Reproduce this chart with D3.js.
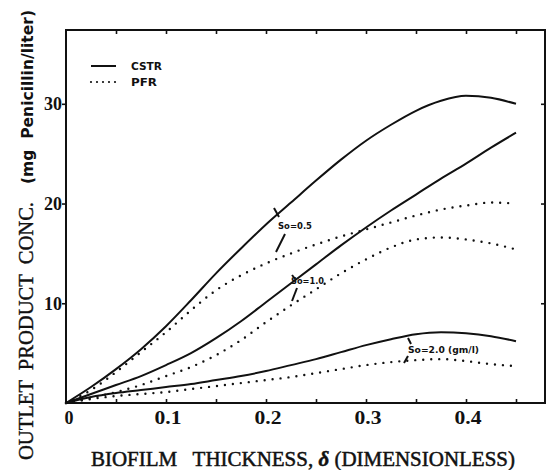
<!DOCTYPE html>
<html>
<head>
<meta charset="utf-8">
<script src="https://cdn.jsdelivr.net/npm/d3@7"></script>
<style>
  html, body { margin: 0; padding: 0; background: #fff; }
  svg { display: block; }
  .serif { font-family: "Liberation Serif", "Times New Roman", serif; font-weight: bold; fill: #111; }
  .title { font-family: "Liberation Serif", "Times New Roman", serif; font-weight: normal; fill: #111; stroke: #111; white-space: pre; }
  .sans { font-family: "DejaVu Sans", "Liberation Sans", sans-serif; font-weight: bold; fill: #111; }
</style>
</head>
<body>
<script>
// Biofilm thickness (dimensionless) sample points
const thickness = [0, 0.025, 0.05, 0.075, 0.1, 0.125, 0.15, 0.175, 0.2, 0.225, 0.25, 0.275, 0.3, 0.325, 0.35, 0.375, 0.4, 0.425, 0.45];

// Outlet penicillin concentration (mg/liter), CSTR
const cstrS05 = [0, 1.6, 3.4, 5.4, 7.7, 10.3, 13.0, 15.5, 17.9, 20.1, 22.3, 24.4, 26.3, 27.9, 29.3, 30.3, 30.8, 30.6, 30.0];
const cstrS10 = [0, 0.9, 1.8, 2.7, 3.8, 5.0, 6.5, 8.2, 10.1, 12.0, 13.9, 15.8, 17.6, 19.3, 20.9, 22.5, 24.0, 25.6, 27.1];
const cstrS20 = [0, 0.6, 1.0, 1.3, 1.6, 1.9, 2.3, 2.7, 3.2, 3.8, 4.4, 5.1, 5.8, 6.4, 6.9, 7.1, 7.0, 6.7, 6.2];

// Outlet penicillin concentration (mg/liter), PFR
const pfrS05 = [0, 1.3, 3.1, 5.1, 7.1, 9.3, 11.3, 12.8, 14.0, 15.0, 15.9, 16.7, 17.4, 18.1, 18.8, 19.4, 19.8, 20.1, 20.0];
const pfrS10 = [0, 0.5, 1.1, 1.8, 2.7, 3.6, 4.8, 6.3, 8.1, 9.8, 11.4, 13.0, 14.4, 15.6, 16.4, 16.6, 16.4, 16.0, 15.4];
const pfrS20 = [0, 0.4, 0.7, 0.9, 1.1, 1.4, 1.7, 2.0, 2.3, 2.6, 3.0, 3.4, 3.8, 4.1, 4.3, 4.4, 4.2, 3.9, 3.7];

const xTicks = [0, 0.1, 0.2, 0.3, 0.4];
const xTickLabels = ["0", "0.1", "0.2", "0.3", "0.4"];
const yTicks = [10, 20, 30];
const legendNames = ["CSTR", "PFR"];
const curveLabels = ["So=0.5", "So=1.0", "So=2.0 (gm/l)"];

const W = 547, H = 470;
const plotLeft = 66, plotRight = 545, plotTop = 30, plotBottom = 403;

const x = d3.scaleLinear().domain([0, 0.479]).range([plotLeft, plotRight]);
const y = d3.scaleLinear().domain([0, 37.4]).range([plotBottom, plotTop]);

const svg = d3.select("body").append("svg").attr("width", W).attr("height", H);

// Frame
svg.append("rect")
  .attr("x", plotLeft).attr("y", plotTop)
  .attr("width", plotRight - plotLeft).attr("height", plotBottom - plotTop)
  .attr("fill", "none").attr("stroke", "#111").attr("stroke-width", 2);

// Bottom and top axes: inward ticks every 0.05
const minor = d3.range(0.05, 0.46, 0.05);
const styleTicks = g => g.call(s => s.select(".domain").remove())
  .call(s => s.selectAll("line").attr("stroke", "#111").attr("stroke-width", 1.6));
svg.append("g").attr("transform", `translate(0,${plotBottom})`)
  .call(d3.axisBottom(x).tickValues(minor).tickSize(-4).tickFormat(""))
  .call(styleTicks);
svg.append("g").attr("transform", `translate(0,${plotTop})`)
  .call(d3.axisTop(x).tickValues(minor).tickSize(-4).tickFormat(""))
  .call(styleTicks);

svg.append("g").selectAll("text").data(xTicks).join("text")
  .attr("class", "serif")
  .attr("x", (d, i) => x(d) + (i === 0 ? 3 : 2))
  .attr("y", 424)
  .attr("text-anchor", "middle")
  .attr("font-size", 18)
  .attr("textLength", (d, i) => i === 0 ? null : 27)
  .attr("lengthAdjust", "spacingAndGlyphs")
  .text((d, i) => xTickLabels[i]);

// Left axis: outward ticks and labels
svg.append("g").attr("transform", `translate(${plotLeft},0)`)
  .call(d3.axisLeft(y).tickValues(yTicks).tickSize(4).tickFormat(""))
  .call(styleTicks);
svg.append("g").selectAll("text").data(yTicks).join("text")
  .attr("class", "serif")
  .attr("x", 62).attr("y", d => y(d) + 6.5)
  .attr("text-anchor", "end")
  .attr("font-size", 18)
  .attr("textLength", 18)
  .attr("lengthAdjust", "spacingAndGlyphs")
  .text(d => d);

// Right axis: inward ticks
svg.append("g").attr("transform", `translate(${plotRight},0)`)
  .call(d3.axisRight(y).tickValues(yTicks).tickSize(-4).tickFormat(""))
  .call(styleTicks);

// Curves
const line = d3.line().x(d => x(d[0])).y(d => y(d[1])).curve(d3.curveMonotoneX);
const pairs = vals => thickness.map((t, i) => [t, vals[i]]);

const series = [
  { vals: cstrS05, dotted: false },
  { vals: cstrS10, dotted: false },
  { vals: cstrS20, dotted: false },
  { vals: pfrS05, dotted: true },
  { vals: pfrS10, dotted: true },
  { vals: pfrS20, dotted: true }
];

svg.append("g").selectAll("path").data(series).join("path")
  .attr("d", s => line(pairs(s.vals)))
  .attr("fill", "none")
  .attr("stroke", "#111")
  .attr("stroke-width", s => s.dotted ? 2.4 : 2)
  .attr("stroke-linecap", s => s.dotted ? "round" : "butt")
  .attr("stroke-dasharray", s => s.dotted ? "0 8" : null);

// Legend
const legend = svg.append("g");
legendNames.forEach((name, i) => {
  const ly = 66 + i * 16;
  legend.append("line")
    .attr("x1", 91).attr("x2", 116).attr("y1", ly).attr("y2", ly)
    .attr("stroke", "#111").attr("stroke-width", i === 0 ? 2 : 2.2)
    .attr("stroke-linecap", i === 0 ? "butt" : "round")
    .attr("stroke-dasharray", i === 0 ? null : "0 6");
  legend.append("text").attr("class", "sans")
    .attr("x", 131).attr("y", ly + 3.5)
    .attr("font-size", 10)
    .attr("textLength", i === 0 ? 31 : 26)
    .attr("lengthAdjust", "spacingAndGlyphs")
    .text(name);
});

// Curve labels with pointer strokes to the CSTR and PFR curve of each feed concentration
const notes = [
  { text: curveLabels[0], tx: 278, ty: 229, len: 34,
    up: [[274, 208], [279, 217]], down: [[285, 234], [276, 252]] },
  { text: curveLabels[1], tx: 291, ty: 284, len: 33,
    up: [[292, 275], [296, 280]], down: [[297, 288], [292, 301]] },
  { text: curveLabels[2], tx: 408, ty: 353, len: 71,
    up: [[408, 338], [411, 344]], down: [[408, 356], [404, 363]] }
];
const ann = svg.append("g");
notes.forEach(n => {
  ann.append("text").attr("class", "sans")
    .attr("x", n.tx).attr("y", n.ty)
    .attr("font-size", 8)
    .attr("textLength", n.len)
    .attr("lengthAdjust", "spacingAndGlyphs")
    .text(n.text);
  [n.up, n.down].forEach(seg => {
    ann.append("line")
      .attr("x1", seg[0][0]).attr("y1", seg[0][1])
      .attr("x2", seg[1][0]).attr("y2", seg[1][1])
      .attr("stroke", "#111").attr("stroke-width", 2);
  });
});

// Axis titles
const xTitle = svg.append("text").attr("class", "title")
  .attr("x", 303).attr("y", 466)
  .attr("text-anchor", "middle")
  .attr("font-size", 21)
  .attr("stroke-width", 0.5)
  .attr("textLength", 424)
  .attr("lengthAdjust", "spacingAndGlyphs");
xTitle.append("tspan").text("BIOFILM   THICKNESS, ");
xTitle.append("tspan").attr("font-style", "italic").attr("font-weight", "bold").text("\u03B4");
xTitle.append("tspan").text(" (DIMENSIONLESS)");

svg.append("text").attr("class", "title")
  .attr("transform", "translate(33,460) rotate(-90)")
  .attr("font-size", 21)
  .attr("stroke-width", 0.4)
  .attr("textLength", 258)
  .attr("lengthAdjust", "spacingAndGlyphs")
  .text("OUTLET  PRODUCT  CONC.");

svg.append("text").attr("class", "sans")
  .attr("transform", "translate(33,184) rotate(-90)")
  .attr("font-size", 16)
  .attr("textLength", 174)
  .attr("lengthAdjust", "spacingAndGlyphs")
  .style("white-space", "pre")
  .text("(mg  Penicillin/liter)");
</script>
</body>
</html>
